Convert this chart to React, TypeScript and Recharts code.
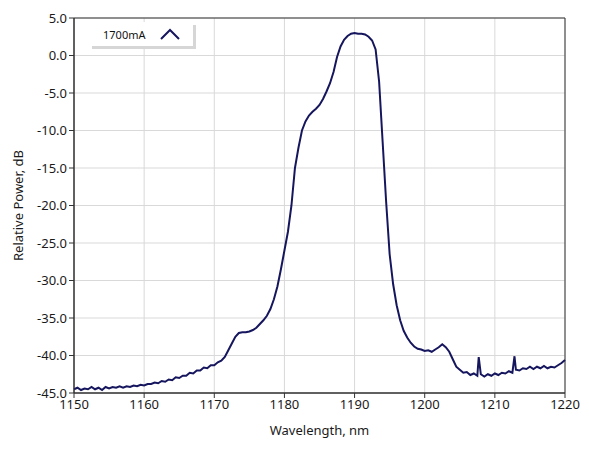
import React from "react";
import {
  LineChart,
  Line,
  XAxis,
  YAxis,
  CartesianGrid,
  ReferenceArea,
} from "recharts";

// wavelength (nm) and relative power (dB)
const wavelength = [
  1150, 1150.5, 1151, 1151.5, 1152, 1152.5, 1153, 1153.5, 1154, 1154.5,
  1155, 1155.5, 1156, 1156.5, 1157, 1157.5, 1158, 1158.5, 1159, 1159.5,
  1160, 1160.5, 1161, 1161.5, 1162, 1162.5, 1163, 1163.5, 1164, 1164.5,
  1165, 1165.5, 1166, 1166.5, 1167, 1167.5, 1168, 1168.5, 1169, 1169.5,
  1170, 1170.5, 1171, 1171.5, 1172, 1172.5, 1173, 1173.5, 1174, 1174.5,
  1175, 1175.5, 1176, 1176.5, 1177, 1177.5, 1178, 1178.5, 1179, 1179.5,
  1180, 1180.5, 1181, 1181.5, 1182, 1182.5, 1183, 1183.5, 1184, 1184.5,
  1185, 1185.5, 1186, 1186.5, 1187, 1187.5, 1188, 1188.5, 1189, 1189.5,
  1190, 1190.5, 1191, 1191.5, 1192, 1192.5, 1193, 1193.5, 1194, 1194.5,
  1195, 1195.5, 1196, 1196.5, 1197, 1197.5, 1198, 1198.5, 1199, 1199.5,
  1200, 1200.5, 1201, 1201.5, 1202, 1202.5, 1203, 1203.5, 1204, 1204.5,
  1205, 1205.5, 1206, 1206.5, 1207, 1207.5, 1207.7, 1208, 1208.5, 1209,
  1209.5, 1210, 1210.5, 1211, 1211.5, 1212, 1212.5, 1212.8, 1213, 1213.5,
  1214, 1214.5, 1215, 1215.5, 1216, 1216.5, 1217, 1217.5, 1218, 1218.5,
  1219, 1219.5, 1220,
];

const power = [
  -44.5, -44.3, -44.6, -44.4, -44.5, -44.2, -44.5, -44.3, -44.6, -44.2,
  -44.4, -44.2, -44.3, -44.1, -44.3, -44.1, -44.2, -44.0, -44.1, -43.9,
  -44.0, -43.8, -43.8, -43.6, -43.7, -43.4, -43.5, -43.2, -43.3, -42.9,
  -43.0, -42.7, -42.7, -42.3, -42.4, -42.0, -42.0, -41.6, -41.7, -41.3,
  -41.3, -40.9, -40.7, -40.2, -39.3, -38.4, -37.5, -37.0, -36.9, -36.9,
  -36.8, -36.6, -36.3, -35.8, -35.3, -34.7, -33.8, -32.5, -30.8, -28.5,
  -26.0, -23.5, -20.0, -15.0, -12.3, -10.0, -8.8, -8.0, -7.5, -7.1,
  -6.6, -5.8, -4.8, -3.7, -2.2, -0.2, 1.2, 2.1, 2.6, 2.9,
  3.0, 2.9, 2.9, 2.8, 2.5, 2.0, 0.8, -3.5, -11.5, -19.5,
  -26.5, -30.5, -33.3, -35.3, -36.7, -37.6, -38.3, -38.8, -39.1, -39.2,
  -39.4, -39.3, -39.5, -39.2, -38.9, -38.5, -38.9, -39.5, -40.5, -41.5,
  -41.9, -42.3, -42.2, -42.6, -42.4, -42.7, -40.2, -42.5, -42.8, -42.5,
  -42.7, -42.4, -42.6, -42.3, -42.4, -42.1, -42.3, -40.1, -41.9, -42.0,
  -41.7, -41.8, -41.5, -41.8, -41.5, -41.7, -41.4, -41.7, -41.5, -41.6,
  -41.3, -41.0, -40.6,
];

const xTicks = [1150, 1160, 1170, 1180, 1190, 1200, 1210, 1220];
const yTicks = [5, 0, -5, -10, -15, -20, -25, -30, -35, -40, -45];

const seriesName = "1700mA";
const lineColor = "#16165e";
const font = "'Noto Sans', 'Open Sans', sans-serif";

const data = wavelength.map((w, i) => ({ w, p: power[i] }));

function LegendBox() {
  return (
    <div
      style={{
        position: "absolute",
        left: 89,
        top: 22,
        width: 104,
        height: 24,
        background: "#fff",
        boxShadow: "3px 3px 0 #d6d6d6",
        display: "flex",
        alignItems: "center",
        fontFamily: font,
        fontSize: 11,
        color: "#111",
      }}
    >
      <span style={{ marginLeft: 14 }}>{seriesName}</span>
      <svg width={24} height={14} style={{ marginLeft: 14 }}>
        <polyline
          points="2,12 11,3 20,12"
          fill="none"
          stroke={lineColor}
          strokeWidth={2}
        />
      </svg>
    </div>
  );
}

export default function App() {
  return (
    <div style={{ position: "absolute", left: 0, top: 0, background: "#fff" }}>
      <LineChart
        width={589}
        height={456}
        data={data}
        margin={{ top: 18, right: 24, bottom: 13, left: 10 }}
      >
        <CartesianGrid stroke="#d9d9d9" strokeWidth={1} />
        <XAxis
          dataKey="w"
          type="number"
          domain={[1150, 1220]}
          ticks={xTicks}
          height={50}
          stroke="#333"
          tickSize={5}
          tick={{ fontSize: 13, fill: "#1a1a1a", fontFamily: font }}
          label={{
            value: "Wavelength, nm",
            position: "insideBottom",
            offset: 8,
            style: { fontSize: 13, fill: "#1a1a1a", fontFamily: font },
          }}
        />
        <YAxis
          type="number"
          domain={[-45, 5]}
          ticks={yTicks}
          width={64}
          stroke="#333"
          tickSize={5}
          allowDataOverflow
          tickFormatter={(v: number) => v.toFixed(1)}
          tick={{ fontSize: 13, fill: "#1a1a1a", fontFamily: font }}
          label={{
            value: "Relative Power, dB",
            angle: -90,
            position: "insideLeft",
            offset: 0,
            dx: 8,
            style: {
              fontSize: 13,
              fill: "#1a1a1a",
              fontFamily: font,
              textAnchor: "middle",
            },
          }}
        />
        <ReferenceArea
          x1={1150}
          x2={1220}
          y1={-45}
          y2={5}
          fill="none"
          stroke="#333"
          strokeWidth={1}
        />
        <Line
          type="linear"
          dataKey="p"
          name={seriesName}
          stroke={lineColor}
          strokeWidth={2}
          dot={false}
          isAnimationActive={false}
        />
      </LineChart>
      <LegendBox />
    </div>
  );
}
